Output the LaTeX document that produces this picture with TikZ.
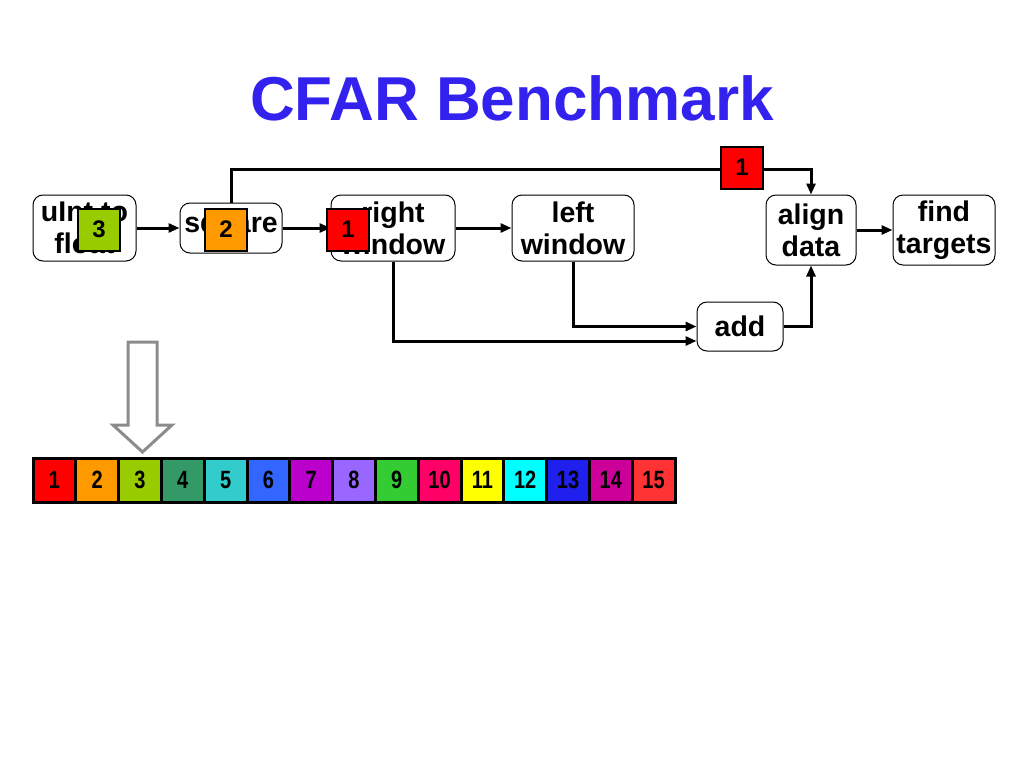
\documentclass[tikz,border=0pt]{standalone}
\usepackage{fontspec}
\setmainfont{Liberation Sans}
\newfontfamily\cellfont[FakeStretch=0.8]{Liberation Sans}
\usetikzlibrary{arrows.meta}
\definecolor{titleblue}{HTML}{3322EE}
\definecolor{arrowgray}{HTML}{8C8C8C}
\definecolor{k1}{HTML}{FF0000}
\definecolor{k2}{HTML}{FF9900}
\definecolor{k3}{HTML}{99CC00}
\definecolor{k4}{HTML}{339966}
\definecolor{k5}{HTML}{33CCCC}
\definecolor{k6}{HTML}{3366FF}
\definecolor{k7}{HTML}{BB00CC}
\definecolor{k8}{HTML}{9966FF}
\definecolor{k9}{HTML}{33CC33}
\definecolor{k10}{HTML}{FF0066}
\definecolor{k11}{HTML}{FFFF00}
\definecolor{k12}{HTML}{00FFFF}
\definecolor{k13}{HTML}{1F1FEE}
\definecolor{k14}{HTML}{CC0099}
\definecolor{k15}{HTML}{FF3333}
\begin{document}
\begin{tikzpicture}[x=1pt,y=-1pt,
  proc/.style={draw=black, line width=1pt, rounded corners=10pt, fill=white, align=center,
    font=\fontsize{28.5}{32}\selectfont\bfseries, inner sep=0pt},
  tok/.style={draw=black, line width=2pt, minimum size=42pt, inner sep=0pt,
    font=\fontsize{24}{24}\selectfont\bfseries},
  cell/.style={draw=black, line width=3pt, minimum width=42.8pt, minimum height=44pt, inner sep=0pt,
    font=\cellfont\fontsize{25}{25}\selectfont\bfseries},
  flow/.style={line width=3pt, -{Triangle[length=11pt,width=9pt]}},
]
\useasboundingbox[fill=white] (0,0) rectangle (1024,768);

\node[font=\fontsize{62}{62}\selectfont\bfseries, text=titleblue, anchor=base] (title) at (512,120) {CFAR Benchmark};

% process nodes
\node[proc, minimum width=103pt, minimum height=66pt] (uif) at (84.5,228) {uInt to\\float};
\node[proc, minimum width=102pt, minimum height=50pt] (sq) at (231,228) {square};
\node[proc, minimum width=124pt, minimum height=66pt] (rw) at (393,228) {right\\window};
\node[proc, minimum width=122pt, minimum height=66pt] (lw) at (573,228) {left\\window};
\node[proc, minimum width=90pt, minimum height=70pt] (ad) at (811,230) {align\\data};
\node[proc, minimum width=102pt, minimum height=70pt] (ft) at (944,230) {find\\targets};
\node[proc, minimum width=86pt, minimum height=49pt] (add) at (740,326.5) {add};

% connectors
\coordinate (topy) at (0,169);
\draw[flow] (uif.east) -- (sq.west);
\draw[flow] (sq.east) -- (rw.west);
\draw[flow] (rw.east) -- (lw.west);
\draw[flow] (ad.east |- ft.west) -- (ft.west);
\draw[flow] (sq.north) |- (topy -| ad.north) -- (ad.north);
\draw[flow] (lw.south) |- (add.west);
\draw[flow] (rw.south) |- ([yshift=-14.5pt]add.west);
\draw[flow] (add.east) -| (ad.south);

% tokens
\node[tok, fill=k3] (t3) at (99,229.5) {3};
\node[tok, fill=k2] (t2) at (226,229.5) {2};
\node[tok, fill=k1] (t1) at (348,229.5) {1};
\node[tok, fill=k1] (t1b) at (742,167.5) {1};

% hollow arrow
\draw[arrowgray, line width=3pt, fill=white, line join=miter]
  (128,342) -- (157,342) -- (157,425) -- (172,425) -- (142.5,452) -- (113,425) -- (128,425) -- cycle;

% cells
\foreach \i in {1,...,15} {
  \node[cell, fill=k\i] (cell\i) at ({33+42.8*(\i-0.5)},480) {\i};
}
\end{tikzpicture}
\end{document}
